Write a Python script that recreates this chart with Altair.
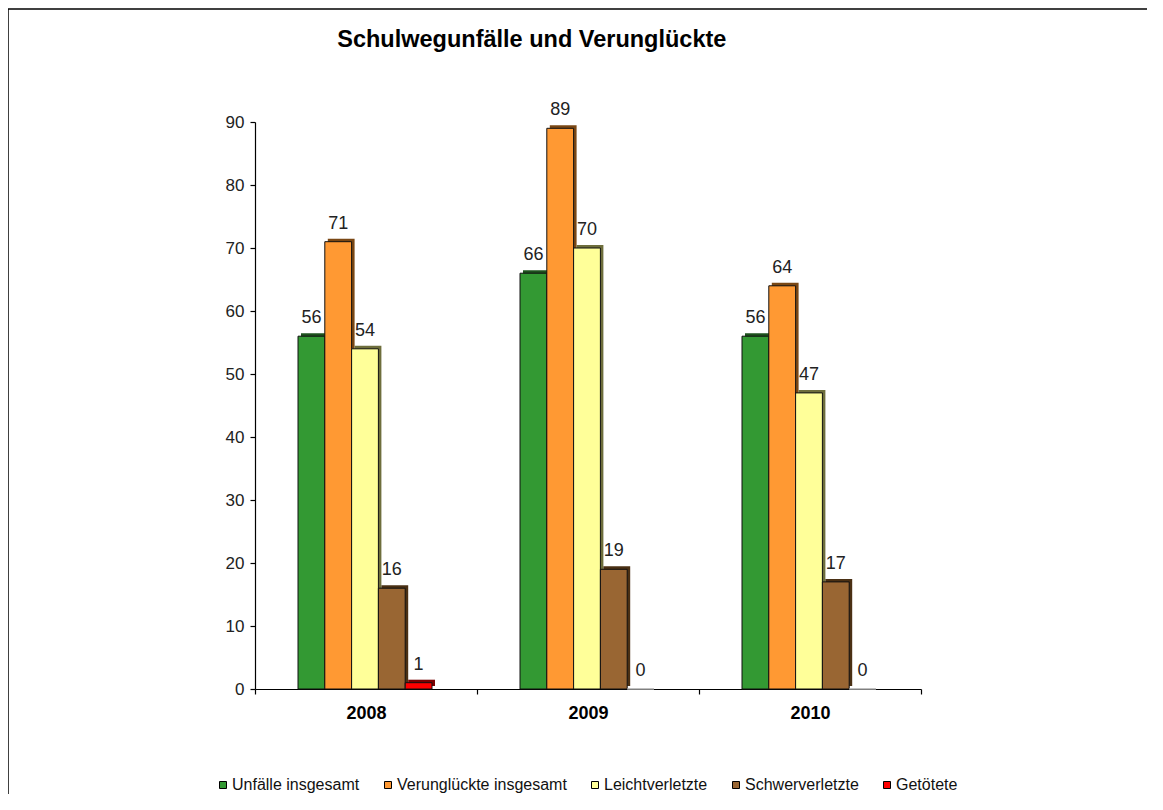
import altair as alt
import pandas as pd

years = ["2008", "2009", "2010"]
series = ["Unfälle insgesamt", "Verunglückte insgesamt", "Leichtverletzte", "Schwerverletzte", "Getötete"]
unfaelle = [56, 66, 56]
verunglueckte = [71, 89, 64]
leichtverletzte = [54, 70, 47]
schwerverletzte = [16, 19, 17]
getoetete = [1, 0, 0]

colors = ["#339933", "#FF9933", "#FFFF99", "#996633", "#FF0000"]
shadow_colors = ["#1d521d", "#7a4714", "#6e6e3c", "#4a3014", "#7a0000"]

vals = [unfaelle, verunglueckte, leichtverletzte, schwerverletzte, getoetete]
rows = []
for s, v in zip(series, vals):
    for y, n in zip(years, v):
        rows.append({"year": y, "series": s, "value": n})
df = pd.DataFrame(rows)

FONT = "Liberation Sans"

x_enc = alt.X("year:N", sort=years,
              scale=alt.Scale(paddingInner=0, paddingOuter=0),
              axis=alt.Axis(title=None, labelAngle=0, tickBand="extent",
                            labelFont=FONT, labelFontSize=18, labelFontWeight="bold",
                            labelColor="#000", labelPadding=10,
                            domainColor="#000", tickColor="#000", tickSize=5,
                            domainWidth=1.2, tickWidth=1.2))
xo_enc = alt.XOffset("series:N", sort=series,
                     scale=alt.Scale(domain=series, range=[43, 177],
                                     paddingOuter=0, paddingInner=0))
xo_shadow = alt.XOffset("series:N", sort=series,
                        scale=alt.Scale(domain=series, range=[46, 180],
                                        paddingOuter=0, paddingInner=0))
y_enc = alt.Y("value:Q",
              scale=alt.Scale(domain=[0, 90], nice=False),
              axis=alt.Axis(title=None, values=list(range(0, 91, 10)), grid=False,
                            labelFont=FONT, labelFontSize=17, labelColor="#222",
                            labelPadding=6, domainColor="#000", tickColor="#000",
                            tickSize=5, domainWidth=1.2, tickWidth=1.2))

base = alt.Chart(df)

shadow = base.transform_filter("datum.value > 0").mark_bar(
    yOffset=-3, strokeWidth=0
).encode(
    x=x_enc, xOffset=xo_shadow, y=y_enc,
    color=alt.Color("series:N", sort=series,
                    scale=alt.Scale(domain=series, range=shadow_colors), legend=None),
)

bars = base.mark_bar(strokeWidth=1).encode(
    x=x_enc, xOffset=xo_enc, y=y_enc,
    fill=alt.Fill("series:N", sort=series,
                  scale=alt.Scale(domain=series, range=colors),
                  legend=alt.Legend(title=None, orient="none", legendX=-40, legendY=655,
                                    direction="horizontal", columns=5, columnPadding=20,
                                    symbolType="square", symbolSize=49,
                                    symbolStrokeColor="#000", symbolStrokeWidth=1,
                                    labelFont=FONT, labelFontSize=16, labelColor="#111",
                                    labelOffset=1, labelLimit=400)),
    stroke=alt.condition("datum.value == 0", alt.value("#aaaaaa"), alt.value("#111111")),
)

labels = base.mark_text(baseline="alphabetic", dy=-13, font=FONT, fontSize=18,
                        color="#222").encode(
    x=x_enc, xOffset=xo_enc, y=y_enc, text=alt.Text("value:Q")
)

frame_src = alt.Chart(alt.Data(values=[{"f": 1}]))
frame_top = frame_src.mark_rule(stroke="#000", strokeWidth=1.5).encode(
    x=alt.value(-247), x2=alt.value(1500), y=alt.value(-113))
frame_left = frame_src.mark_rule(stroke="#000", strokeWidth=1.5).encode(
    x=alt.value(-247), y=alt.value(-113), y2=alt.value(1500))

main = alt.layer(bars, labels)

chart = alt.layer(frame_top, frame_left, shadow, main).resolve_scale(
    color="independent", xOffset="independent"
).properties(
    width=666, height=567,
    background="white",
    autosize=alt.AutoSizeParams(type="none"),
    padding={"left": 247, "top": 114, "right": 226, "bottom": 105},
    title=alt.TitleParams("Schulwegunfälle und Verunglückte", anchor="start", dx=330,
                          offset=-43, font=FONT, fontSize=23.5, fontWeight="bold",
                          color="#000"),
).configure_view(stroke=None)

chart.save("out.html", embed_options={"renderer": "svg", "actions": False})
